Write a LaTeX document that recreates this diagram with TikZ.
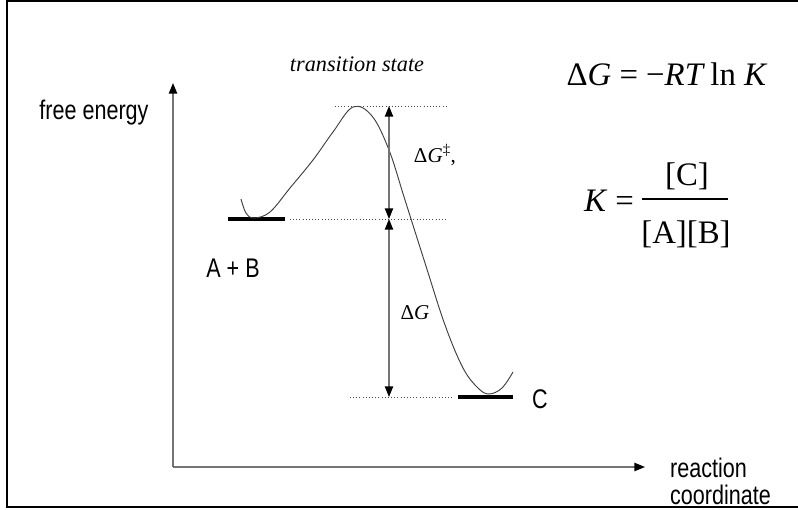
\documentclass[tikz,border=0pt]{standalone}
\usepackage{fontspec}
\setmainfont{Liberation Serif}
\newfontfamily\labelfont[FakeStretch=0.8]{Liberation Sans}
\usetikzlibrary{arrows.meta}

\begin{document}
\begin{tikzpicture}[x=0.03cm, y=-0.03cm,
    axis/.style={draw=black!55, line width=1.3pt, -{Triangle[length=9pt, width=7pt, color=black]}},
    gap/.style={draw=black!55, line width=1.1pt, {Triangle[length=9pt, width=7pt, color=black]}-{Triangle[length=9pt, width=7pt, color=black]}},
    level/.style={line width=4pt},
    guide/.style={black!70, line width=0.7pt, dotted},
    sanslabel/.style={font=\labelfont\fontsize{23}{26}\selectfont},
    serlabel/.style={font=\fontsize{18}{21}\selectfont},
    eqlabel/.style={font=\fontsize{28}{32}\selectfont}]
    \useasboundingbox (0,0) rectangle (798,510);
    \fill[white] (0,0) rectangle (798,510);
    % Frame
    \draw[line width=1.8pt] (800,1) -- (7,1) -- (7,507) -- (800,507);

    % Axes
    \coordinate (origin) at (173,467);
    \coordinate (ytip) at (173,83);
    \coordinate (xtip) at (645,467);
    \draw[axis] (origin) -- (ytip);
    \draw[axis] (origin) -- (xtip);
    \node[sanslabel] (yname) at (94,113) {free energy};
    \node[sanslabel, anchor=west] (xname1) at (666,468) {reaction};
    \node[sanslabel, anchor=west] (xname2) at (666,495) {coordinate};

    % Energy levels
    \draw[level] (228,219) coordinate (ableft) -- (285,219) coordinate (abright);
    \draw[level] (458,397) coordinate (cleft) -- (513,397) coordinate (cright);
    \node[sanslabel] (ab) at (233,268) {A + B};
    \node[sanslabel] (c) at (540,399) {C};

    % Reaction profile
    \draw[black!75, line width=0.8pt, smooth, tension=0.6] plot coordinates {
        (241,199) (246,213) (254,218) (270,212) (290,188) (313,160) (333,132)
        (353,107) (372,116) (389,150) (405,200) (425,263) (445,325) (463,368)
        (478,388) (489,394) (502,388) (513,372)};

    % Guide lines
    \coordinate (tstop) at (389,106);
    \coordinate (abmid) at (389,219);
    \coordinate (cbot) at (389,397);
    \draw[guide] (335,106) -- (tstop) -- (447,106);
    \draw[guide] (abright) ++(5,0) -- (abmid) -- (447,219);
    \draw[guide] (350,397) -- (cbot) -- (452,397);

    % Energy gaps
    \draw[gap] (tstop) -- (abmid);
    \draw[gap] (abmid) -- (cbot);
    \node[serlabel] (dgts) at (435,155) {Δ\textit{G}\textsuperscript{‡},};
    \node[serlabel] (dg) at (415,313) {Δ\textit{G}};
    \node[font=\fontsize{19}{22}\selectfont] (ts) at (357,64) {\textit{transition state}};

    % Equations
    \node[eqlabel] (eqfree) at (667,74) {Δ\textit{G} = −\textit{RT}\,ln \textit{K}};
    \node[eqlabel] (keq) at (609,201) {\textit{K} =};
    \coordinate (barl) at (642,199);
    \coordinate (barr) at (728,199);
    \draw[line width=2.4pt] (barl) -- (barr);
    \node[eqlabel] (num) at (687,176) {[C]};
    \node[eqlabel] (den) at (686,234) {[A][B]};
\end{tikzpicture}
\end{document}
